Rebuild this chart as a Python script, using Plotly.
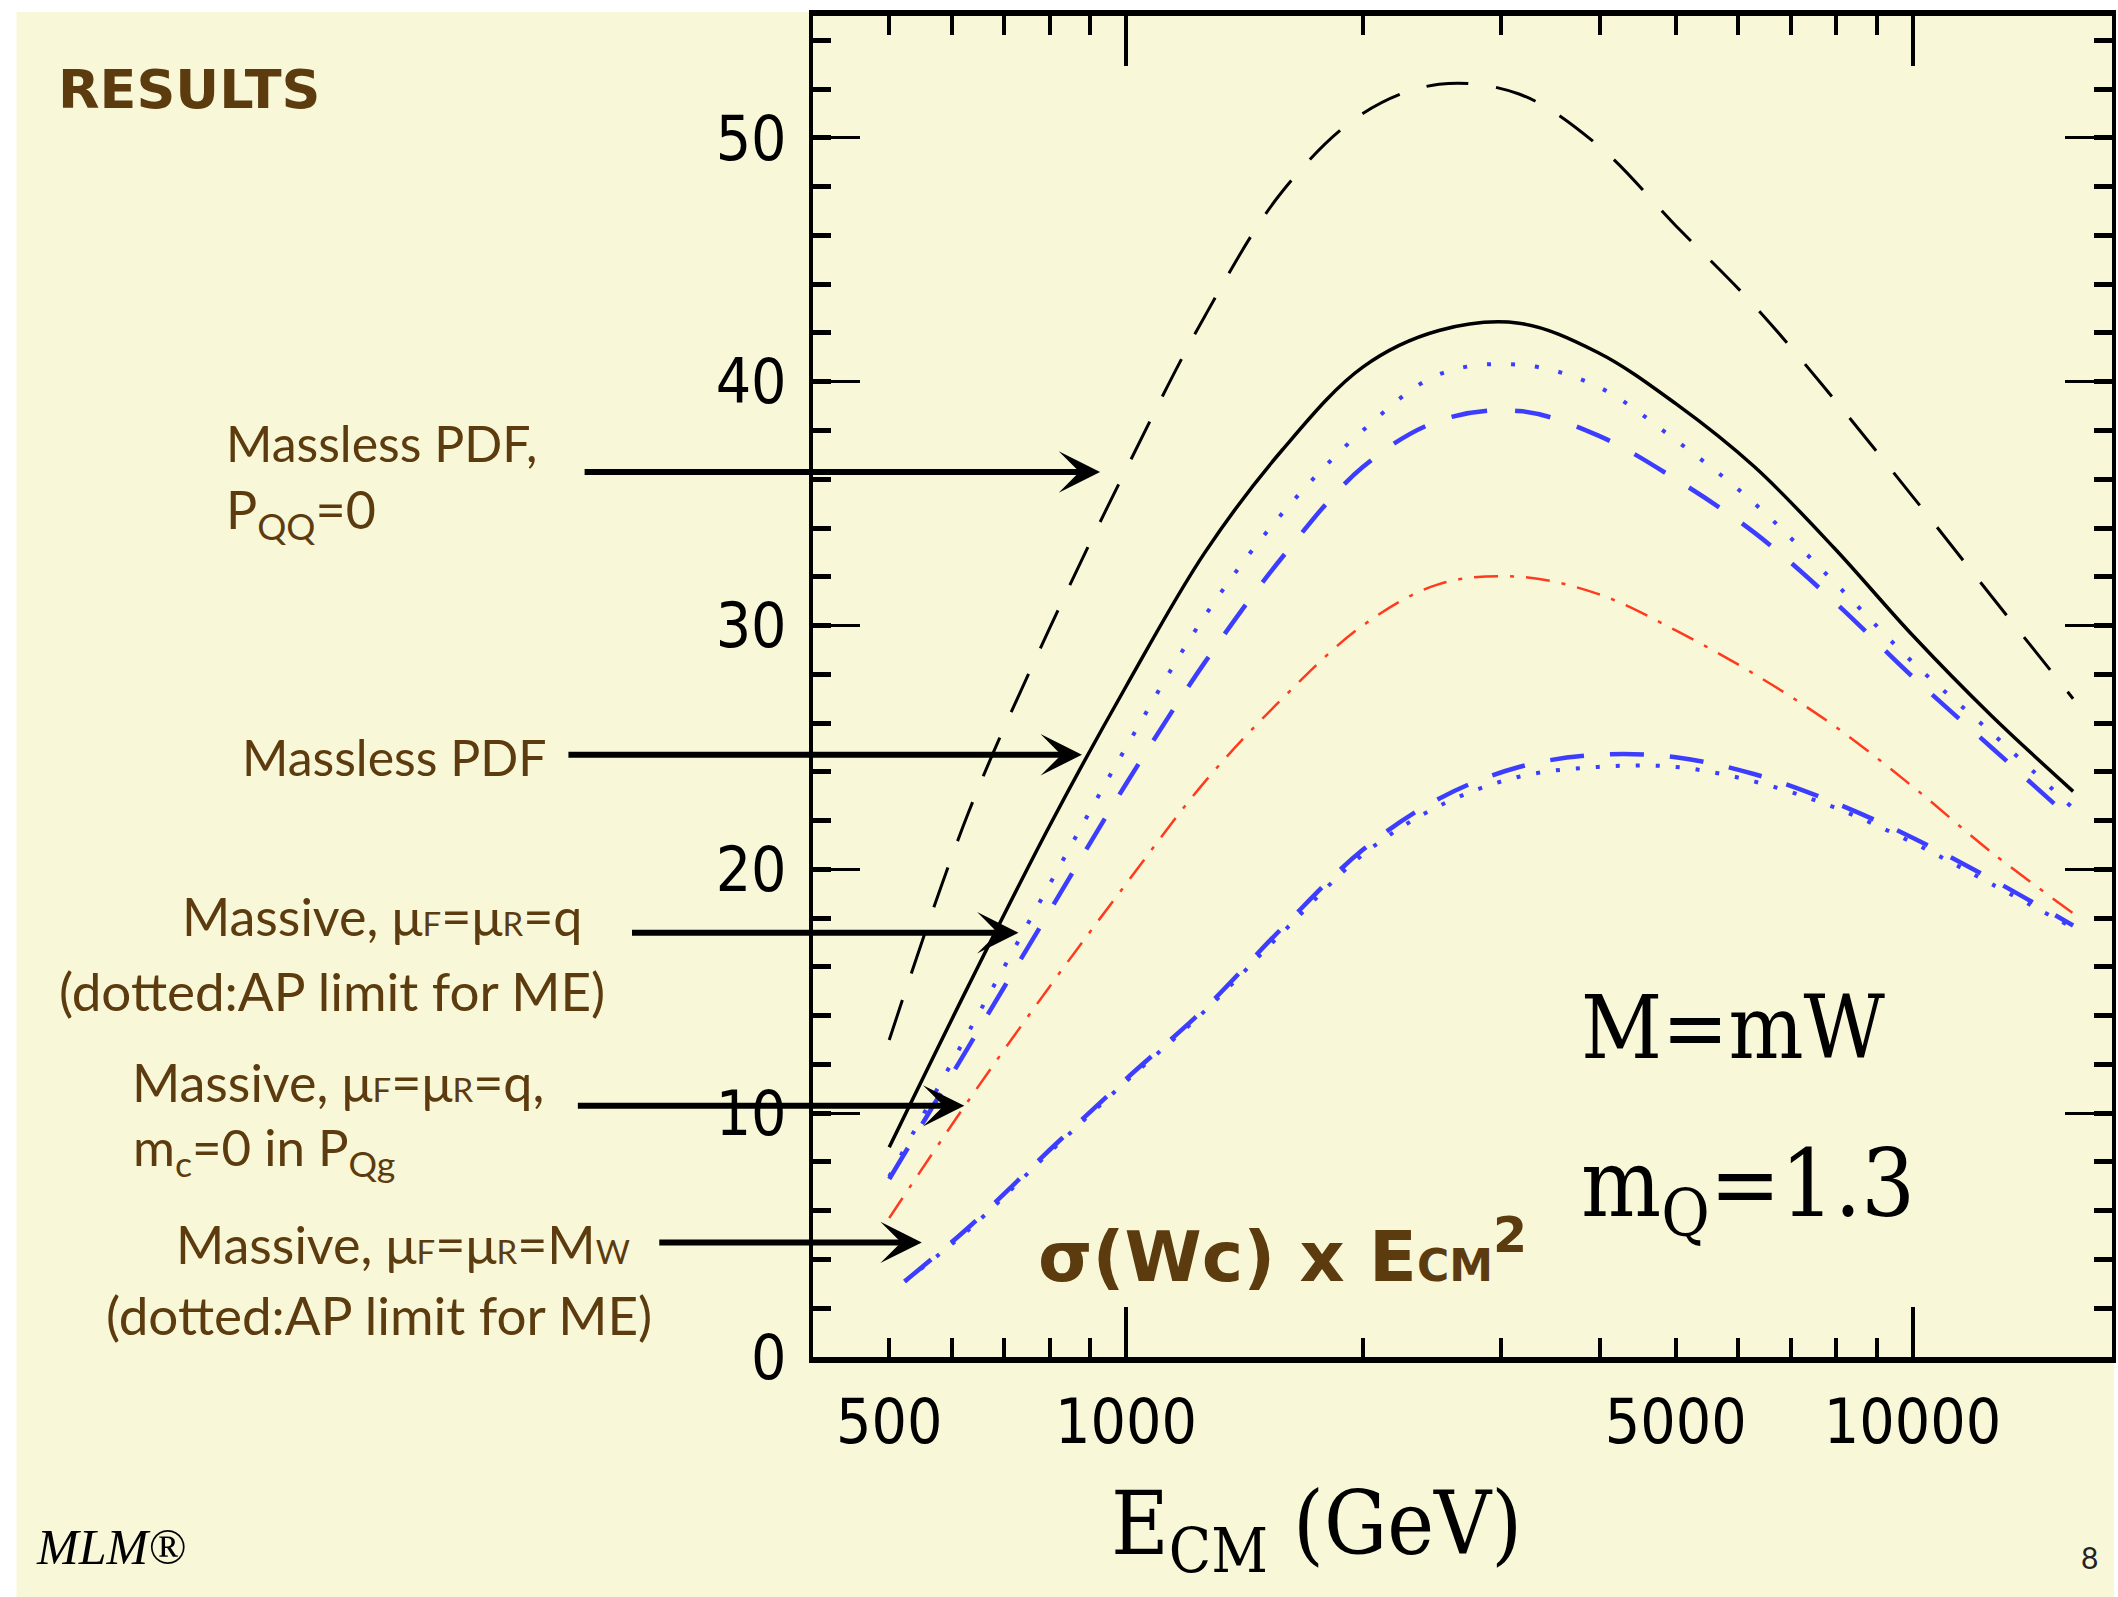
import math
import plotly.graph_objects as go

# ---------------- data ----------------
ecm = [500, 630, 800, 1000, 1260, 1580, 2000, 2500, 3160, 3980, 5000, 6300,
       7940, 10000, 12600, 16000]
massless_pqq0 = [13.0, 22.3, 29.9, 36.4, 42.7, 47.8, 51.0, 52.2, 51.8, 49.7, 46.4, 43.1,
                 39.3, 35.3, 31.2, 27.0]
massless = [8.6, 15.2, 21.8, 27.5, 33.0, 37.2, 40.6, 42.1, 42.4, 41.2, 39.1, 36.5,
            33.2, 29.6, 26.3, 23.2]
massive_q_ap = [7.4, 13.3, 19.4, 25.0, 30.4, 34.6, 38.0, 40.3, 40.7, 39.8, 37.6, 35.0,
                31.8, 28.5, 25.6, 22.5]
massive_q = [7.3, 12.7, 18.3, 23.5, 28.5, 32.8, 36.5, 38.4, 38.8, 37.8, 36.0, 33.8,
             31.0, 27.9, 25.0, 22.0]
massive_q_mc0 = [5.7, 10.5, 15.2, 19.4, 23.6, 27.0, 30.0, 31.7, 32.0, 31.3, 29.8, 28.0,
                 25.9, 23.4, 20.7, 18.2]

ecm_mw = [523, 630, 800, 1000, 1260, 1580, 2000, 2500, 3160, 3980, 5000, 6300,
          7940, 10000, 12600, 16000]
massive_mw = [3.1, 5.3, 8.5, 11.4, 14.3, 17.6, 20.8, 22.9, 24.2, 24.7, 24.6, 23.9,
              22.75, 21.3, 19.6, 17.7]
massive_mw_ap = [3.1, 5.2, 8.4, 11.3, 14.2, 17.4, 20.6, 22.6, 23.8, 24.2, 24.2, 23.6,
                 22.55, 21.1, 19.4, 17.6]

x_ticks = [500, 1000, 5000, 10000]
x_ticktext = ["500", "1000", "5000", "10000"]
x_minor = [600, 700, 800, 900, 2000, 3000, 4000, 6000, 7000, 8000, 9000]
x_long = [1000, 10000]
y_ticks = [0, 10, 20, 30, 40, 50]
x_range = [400, 17930]
y_range = [0, 55]

# arrow tips (E_CM, value) and tail offsets
arrow_tips = [(927, 36.3), (879, 24.7), (730, 17.4), (623, 10.3), (550, 4.7)]
arrow_tail_dx = [-517, -515, -388, -388, -264]

# ---------------- styling ----------------
W, H = 2118, 1597
PL, PR, PT, PB = 813, 2116, 16, 1357
CREAM = "#F8F7D8"
BROWN = "#5C3B0E"
BLUE = "#3D3DFF"
RED = "#FF3A1E"


def P(px, py):
    return (px - PL) / (PR - PL), (PB - py) / (PB - PT)


SM = 1.0
fig = go.Figure()

fig.add_trace(go.Scatter(x=ecm_mw, y=massive_mw_ap, mode="lines",
                         line=dict(color=BLUE, width=4, dash="4px,16px", shape="spline", smoothing=SM)))
fig.add_trace(go.Scatter(x=ecm_mw, y=massive_mw, mode="lines",
                         line=dict(color=BLUE, width=4.5, dash="34px,26px", shape="spline", smoothing=SM)))
fig.add_trace(go.Scatter(x=ecm, y=massive_q_mc0, mode="lines",
                         line=dict(color=RED, width=2.5, dash="24px,12px,4px,12px", shape="spline", smoothing=SM)))
fig.add_trace(go.Scatter(x=ecm, y=massive_q_ap, mode="lines",
                         line=dict(color=BLUE, width=4, dash="4px,20px", shape="spline", smoothing=SM)))
fig.add_trace(go.Scatter(x=ecm, y=massive_q, mode="lines",
                         line=dict(color=BLUE, width=4.5, dash="36px,28px", shape="spline", smoothing=SM)))
fig.add_trace(go.Scatter(x=ecm, y=massless_pqq0, mode="lines",
                         line=dict(color="black", width=3, dash="42px,28px", shape="spline", smoothing=SM)))
fig.add_trace(go.Scatter(x=ecm, y=massless, mode="lines", xaxis="x2",
                         line=dict(color="black", width=3.5, shape="spline", smoothing=SM)))

tickfont = dict(family="DejaVu Sans Condensed, Liberation Sans Narrow, DejaVu Sans", size=62, color="black")
lr = [math.log10(x_range[0]), math.log10(x_range[1])]

fig.update_layout(
    width=W, height=H,
    margin=dict(l=PL, r=W - PR, t=PT, b=H - PB, pad=0),
    paper_bgcolor="white", plot_bgcolor=CREAM,
    showlegend=False,
    xaxis=dict(type="log", range=lr, showgrid=False, zeroline=False,
               showline=True, linecolor="black", linewidth=6, mirror="ticks",
               ticks="inside", tickvals=x_ticks, ticktext=x_ticktext,
               ticklen=19, tickwidth=4, tickcolor="black",
               minor=dict(tickvals=x_minor, ticks="inside", ticklen=19, tickwidth=4,
                          tickcolor="black", showgrid=False),
               tickfont=tickfont, ticklabelstandoff=6),
    xaxis2=dict(type="log", range=lr, overlaying="x", anchor="y", side="bottom",
                showgrid=False, zeroline=False, showline=False, mirror="ticks",
                ticks="inside", tickvals=x_long, ticklen=50, tickwidth=4,
                tickcolor="black", showticklabels=False),
    yaxis=dict(range=y_range, showgrid=False, zeroline=False,
               showline=True, linecolor="black", linewidth=4, mirror="ticks",
               ticks="inside", tickvals=y_ticks, ticklen=47, tickwidth=3, tickcolor="black",
               minor=dict(dtick=2, ticks="inside", ticklen=18, tickwidth=5,
                          tickcolor="black", showgrid=False),
               tickfont=tickfont, ticklabelstandoff=10),
)

# slide background
x0, y0 = P(14, 1597)
x1, y1 = P(2118, 12)
fig.add_shape(type="rect", xref="paper", yref="paper", x0=x0, y0=y0, x1=x1, y1=y1,
              fillcolor=CREAM, line=dict(width=0), layer="below")


def lab(size):
    return dict(family="Lato, Open Sans, sans-serif", size=size, color=BROWN)


def sm(size):
    return f"font-size:{round(size * 0.63)}px"


def text(px, py, s, font, xanchor="left"):
    x, y = P(px, py)
    fig.add_annotation(xref="paper", yref="paper", x=x, y=y, text=s, showarrow=False,
                       xanchor=xanchor, yanchor="middle", font=font, align="left")


text(54, 89, "RESULTS", dict(family="DejaVu Sans", size=54, color=BROWN, weight="bold"))
text(222, 443, "Massless PDF,", lab(50))
text(222, 513, "P<sub>QQ</sub>=0", lab(52))
text(238, 757, "Massless PDF", lab(50))
text(178, 916, f"Massive, μ<span style='{sm(52)}'>F</span>=μ<span style='{sm(52)}'>R</span>=q", lab(52))
text(55, 990, "(dotted:AP limit for ME)", lab(53))
text(128, 1082, f"Massive, μ<span style='{sm(52)}'>F</span>=μ<span style='{sm(52)}'>R</span>=q,", lab(52))
text(129, 1150, "m<sub>c</sub>=0 in P<sub>Qg</sub>", lab(51))
text(172, 1244, f"Massive, μ<span style='{sm(52)}'>F</span>=μ<span style='{sm(52)}'>R</span>=M<span style='{sm(52)}'>W</span>", lab(52))
text(102, 1314, "(dotted:AP limit for ME)", lab(53))

text(1037, 1252, "σ(Wc) x E<span style='font-size:44px'>CM</span><sup>2</sup>",
     dict(family="DejaVu Sans", size=70, color=BROWN, weight="bold"))

serif = dict(family="DejaVu Serif Condensed, DejaVu Serif, serif", size=88, color="black")
text(1581, 1027, "M=mW", serif)
text(1581, 1190, "m<sub>Q</sub>=1.3", dict(family="DejaVu Serif Condensed, DejaVu Serif, serif", size=94, color="black"))
text(1110, 1530, "E<sub>CM</sub> (GeV)", dict(family="DejaVu Serif Condensed, DejaVu Serif, serif", size=88, color="black"))

text(32, 1547, "<i>MLM®</i>", dict(family="Liberation Serif, serif", size=50, color="black"))
text(2093, 1557, "8", dict(family="Lato, sans-serif", size=30, color="#222222"), xanchor="center")

for (xt, yt), dx in zip(arrow_tips, arrow_tail_dx):
    fig.add_annotation(x=math.log10(xt), y=yt, xref="x", yref="y", text="",
                       showarrow=True, ax=dx, ay=0, axref="pixel", ayref="pixel",
                       arrowhead=3, arrowsize=1.15, arrowwidth=6, arrowcolor="black",
                       standoff=0, startstandoff=0)

fig.write_html("out.html")
